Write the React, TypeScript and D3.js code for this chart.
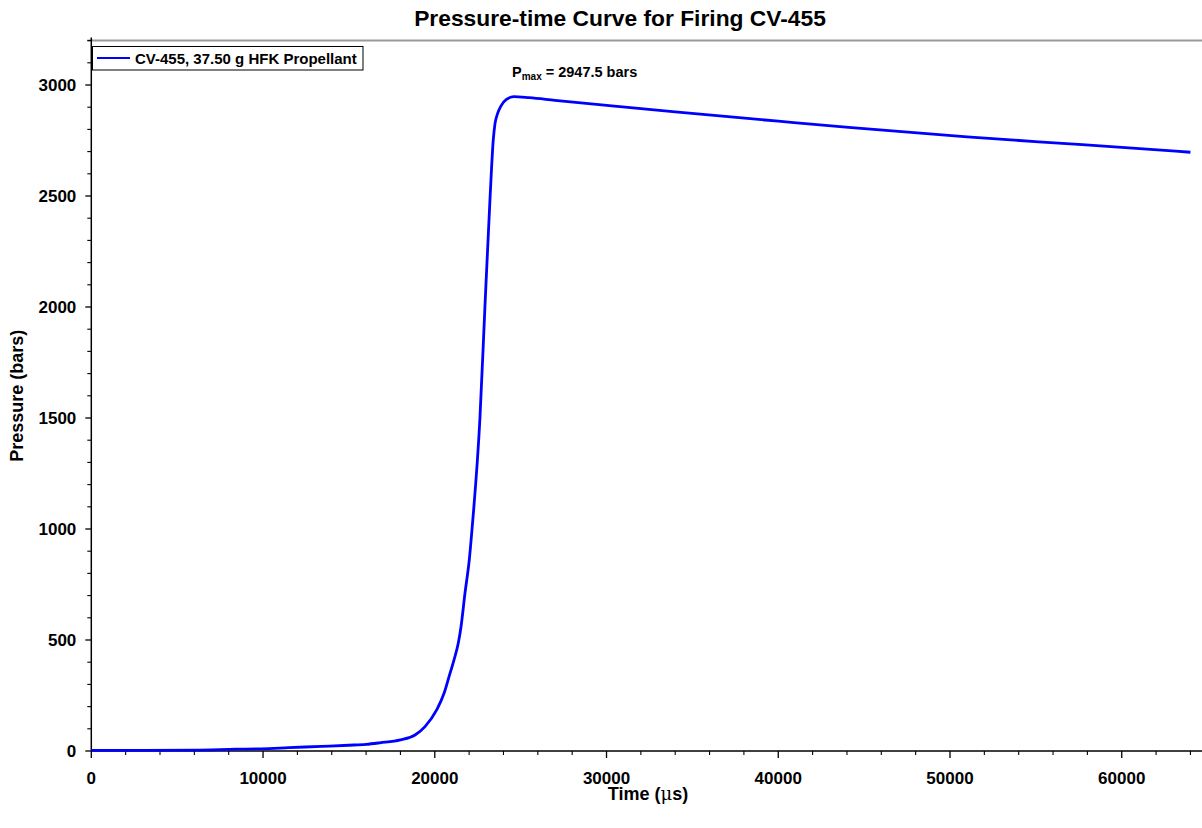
import React from "react";
import * as d3 from "d3";

const timeUs = [0, 3000, 6000, 8400, 9900, 11500, 13400, 15000, 16000, 16800, 18000, 18850, 19430, 20110, 20540, 20830, 21120, 21370, 21530, 21760, 22010, 22170, 22630, 22920, 23215, 23410, 23505, 23650, 23850, 24190, 24600, 25500, 27000, 30600, 34000, 37400, 40000, 44100, 51000, 57700, 64000];
const pressureBars = [3, 3, 4, 8, 10, 15, 21, 26, 30, 37, 50, 72, 110, 185, 260, 335, 411, 486, 561, 712, 862, 1000, 1500, 2000, 2486, 2757, 2825, 2870, 2905, 2936, 2947.5, 2943, 2931, 2904, 2879, 2855, 2837, 2809, 2766, 2731, 2697];
const xMajorTicks = [0, 10000, 20000, 30000, 40000, 50000, 60000];
const yMajorTicks = [0, 500, 1000, 1500, 2000, 2500, 3000];
const seriesName = "CV-455, 37.50 g HFK Propellant";
const titleText = "Pressure-time Curve for Firing CV-455";
const pmaxText = " = 2947.5 bars";

const FONT = "'Liberation Sans', Arial, sans-serif";

export default function App() {
  const W = 1202, H = 828;
  const x0 = 91.3, y0 = 751;
  const x = d3.scaleLinear().domain([0, 66000]).range([x0, x0 + 66000 * 0.017174]);
  const y = d3.scaleLinear().domain([0, 3200]).range([y0, y0 - 3200 * 0.222]);
  const xMinor = d3.range(0, 66001, 2000).filter((v) => !xMajorTicks.includes(v) && x(v) <= W);
  const yMinor = d3.range(0, 3201, 100).filter((v) => !yMajorTicks.includes(v));
  const pts = timeUs.map((t, i) => [t, pressureBars[i]] as [number, number]);
  const line = d3.line<[number, number]>().x((d) => x(d[0])).y((d) => y(d[1])).curve(d3.curveMonotoneX);
  const top = y(3200);
  return (
    <svg width={W} height={H} style={{ position: "fixed", left: 0, top: 0, background: "#fff" }} fontFamily={FONT}>
      <rect x={0} y={0} width={W} height={H} fill="#fff" />
      <text x={620} y={26} textAnchor="middle" fontSize={22.8} fontWeight="bold">{titleText}</text>
      {/* top border */}
      <line x1={x0 - 4} x2={W} y1={top} y2={top} stroke="#999" strokeWidth={2} />
      {/* axes */}
      <line x1={x0} x2={x0} y1={top - 3} y2={y0} stroke="#000" strokeWidth={1.5} />
      <line x1={x0} x2={W} y1={y0} y2={y0} stroke="#000" strokeWidth={1.5} />
      {xMajorTicks.map((v) => (
        <g key={"xt" + v}>
          <line x1={x(v)} x2={x(v)} y1={y0} y2={y0 + 7} stroke="#000" strokeWidth={1.3} />
          <text x={x(v)} y={y0 + 33} textAnchor="middle" fontSize={17} fontWeight="bold">{v}</text>
        </g>
      ))}
      {xMinor.map((v) => (
        <line key={"xm" + v} x1={x(v)} x2={x(v)} y1={y0} y2={y0 + 4} stroke="#000" strokeWidth={1.1} />
      ))}
      {yMajorTicks.map((v) => (
        <g key={"yt" + v}>
          <line x1={x0 - 6} x2={x0} y1={y(v)} y2={y(v)} stroke="#000" strokeWidth={1.3} />
          <text x={x0 - 15} y={y(v) + 6} textAnchor="end" fontSize={17} fontWeight="bold">{v}</text>
        </g>
      ))}
      {yMinor.map((v) => (
        <line key={"ym" + v} x1={x0 - 4} x2={x0} y1={y(v)} y2={y(v)} stroke="#000" strokeWidth={1.1} />
      ))}
      {/* axis titles */}
      <text x={648} y={800} textAnchor="middle" fontSize={18} fontWeight="bold">
        Time (<tspan fontFamily="'DejaVu Serif', serif" fontWeight="normal">μ</tspan>s)
      </text>
      <text transform={`translate(23, ${(top + y0) / 2}) rotate(-90)`} textAnchor="middle" fontSize={18} fontWeight="bold">Pressure (bars)</text>
      {/* curve */}
      <path d={line(pts) || ""} fill="none" stroke="#0000ff" strokeWidth={2.8} strokeLinejoin="round" />
      {/* Pmax annotation */}
      <text x={512} y={77} fontSize={14.5} fontWeight="bold">
        P<tspan fontSize={10} dy={3}>max</tspan><tspan dy={-3}>{pmaxText}</tspan>
      </text>
      {/* legend */}
      <rect x={92.5} y={46.5} width={270.5} height={23.5} fill="#fff" stroke="#000" strokeWidth={1} />
      <line x1={97} x2={130} y1={58} y2={58} stroke="#0000ff" strokeWidth={1.8} />
      <text x={135} y={63.5} fontSize={15} fontWeight="bold">{seriesName}</text>
    </svg>
  );
}
